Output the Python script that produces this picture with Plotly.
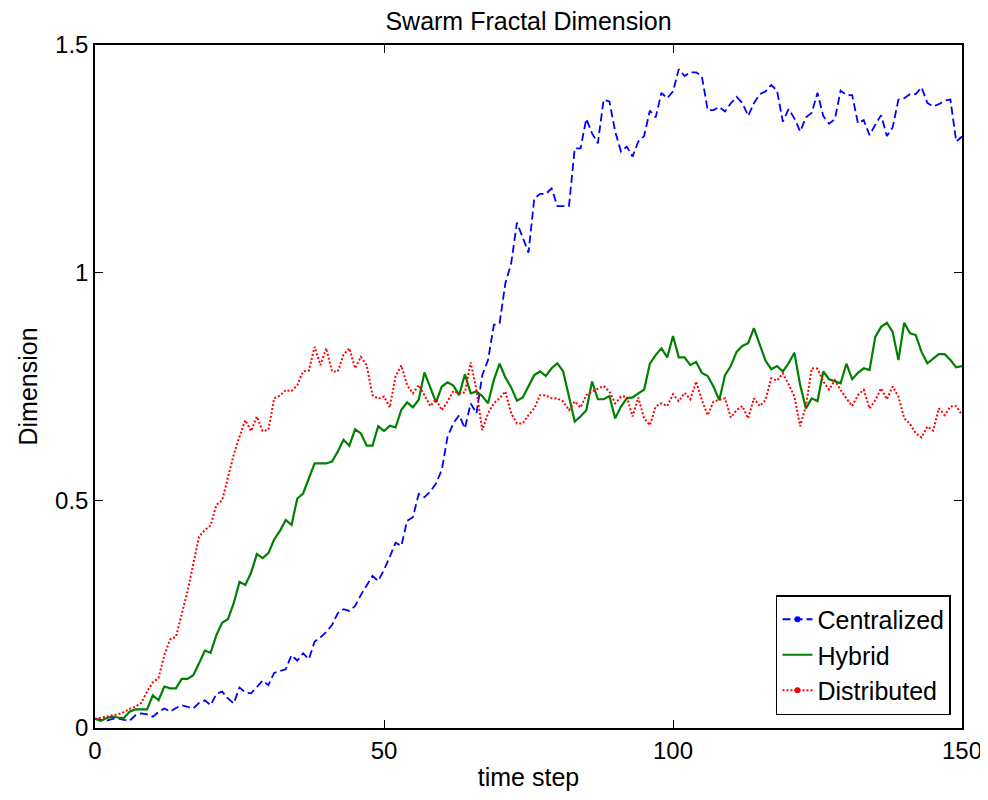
import plotly.graph_objects as go

time_steps = list(range(0, 151))

centralized = [
    0.020, 0.018, 0.016, 0.020, 0.021, 0.018, 0.016, 0.028, 0.032, 0.030,
    0.025, 0.035, 0.043, 0.036, 0.044, 0.050, 0.046, 0.043, 0.055, 0.061,
    0.050, 0.075, 0.080, 0.065, 0.054, 0.089, 0.078, 0.076, 0.090, 0.104,
    0.094, 0.121, 0.125, 0.129, 0.160, 0.148, 0.164, 0.151, 0.190, 0.199,
    0.211, 0.226, 0.252, 0.261, 0.257, 0.268, 0.292, 0.312, 0.334, 0.323,
    0.347, 0.376, 0.407, 0.400, 0.455, 0.463, 0.514, 0.507, 0.519, 0.537,
    0.567, 0.640, 0.669, 0.687, 0.658, 0.713, 0.691, 0.775, 0.808, 0.885,
    0.889, 0.977, 1.020, 1.110, 1.077, 1.044, 1.163, 1.173, 1.173, 1.185,
    1.146, 1.146, 1.146, 1.273, 1.273, 1.338, 1.306, 1.284, 1.380, 1.376,
    1.310, 1.266, 1.277, 1.255, 1.288, 1.300, 1.356, 1.341, 1.395, 1.383,
    1.398, 1.447, 1.432, 1.440, 1.440, 1.431, 1.357, 1.357, 1.364, 1.354,
    1.372, 1.386, 1.373, 1.344, 1.372, 1.392, 1.398, 1.412, 1.400, 1.332,
    1.359, 1.339, 1.310, 1.341, 1.351, 1.395, 1.344, 1.327, 1.337, 1.400,
    1.390, 1.390, 1.328, 1.335, 1.302, 1.325, 1.346, 1.300, 1.319, 1.380,
    1.383, 1.392, 1.392, 1.407, 1.373, 1.365, 1.370, 1.378, 1.380, 1.288,
    1.299,
]

hybrid = [
    0.020, 0.016, 0.022, 0.025, 0.023, 0.022, 0.036, 0.041, 0.041, 0.041,
    0.072, 0.061, 0.091, 0.087, 0.087, 0.108, 0.108, 0.116, 0.142, 0.170,
    0.165, 0.204, 0.231, 0.239, 0.274, 0.321, 0.314, 0.341, 0.382, 0.373,
    0.384, 0.414, 0.433, 0.457, 0.446, 0.504, 0.515, 0.548, 0.581, 0.581,
    0.581, 0.585, 0.607, 0.633, 0.620, 0.656, 0.647, 0.620, 0.620, 0.663,
    0.652, 0.664, 0.660, 0.699, 0.715, 0.704, 0.721, 0.781, 0.746, 0.715,
    0.750, 0.759, 0.752, 0.731, 0.777, 0.735, 0.739, 0.729, 0.713, 0.764,
    0.800, 0.770, 0.748, 0.719, 0.726, 0.751, 0.775, 0.783, 0.773, 0.790,
    0.801, 0.783, 0.730, 0.673, 0.684, 0.698, 0.761, 0.722, 0.722, 0.729,
    0.680, 0.706, 0.724, 0.726, 0.735, 0.743, 0.800, 0.819, 0.834, 0.814,
    0.861, 0.814, 0.814, 0.797, 0.804, 0.780, 0.773, 0.750, 0.720, 0.775,
    0.795, 0.826, 0.839, 0.845, 0.878, 0.841, 0.807, 0.788, 0.795, 0.783,
    0.801, 0.824, 0.753, 0.702, 0.724, 0.718, 0.783, 0.766, 0.761, 0.757,
    0.800, 0.766, 0.780, 0.790, 0.786, 0.859, 0.881, 0.890, 0.870, 0.808,
    0.890, 0.867, 0.863, 0.826, 0.801, 0.812, 0.821, 0.821, 0.808, 0.792,
    0.795,
]

distributed = [
    0.020, 0.022, 0.025, 0.028, 0.030, 0.035, 0.042, 0.047, 0.055, 0.080,
    0.100, 0.110, 0.160, 0.195, 0.200, 0.250, 0.300, 0.360, 0.420, 0.435,
    0.445, 0.490, 0.500, 0.550, 0.600, 0.640, 0.676, 0.652, 0.684, 0.652,
    0.655, 0.724, 0.730, 0.742, 0.740, 0.753, 0.783, 0.785, 0.837, 0.797,
    0.834, 0.783, 0.783, 0.820, 0.834, 0.790, 0.815, 0.797, 0.731, 0.723,
    0.728, 0.704, 0.772, 0.796, 0.753, 0.735, 0.753, 0.731, 0.707, 0.722,
    0.698, 0.717, 0.740, 0.735, 0.737, 0.803, 0.742, 0.654, 0.691, 0.713,
    0.724, 0.739, 0.691, 0.669, 0.669, 0.687, 0.702, 0.731, 0.731, 0.724,
    0.724, 0.717, 0.698, 0.717, 0.704, 0.731, 0.739, 0.745, 0.751, 0.739,
    0.713, 0.728, 0.728, 0.684, 0.726, 0.680, 0.665, 0.706, 0.713, 0.707,
    0.733, 0.718, 0.736, 0.722, 0.761, 0.720, 0.687, 0.717, 0.720, 0.724,
    0.682, 0.698, 0.707, 0.680, 0.724, 0.707, 0.720, 0.768, 0.763, 0.779,
    0.755, 0.728, 0.663, 0.707, 0.790, 0.789, 0.761, 0.743, 0.764, 0.742,
    0.724, 0.707, 0.731, 0.743, 0.702, 0.720, 0.746, 0.722, 0.750, 0.728,
    0.680, 0.668, 0.647, 0.638, 0.662, 0.653, 0.702, 0.687, 0.706, 0.707,
    0.687,
]

series_names = ["Centralized", "Hybrid", "Distributed"]
x_ticks = [0, 50, 100, 150]
x_tick_labels = ["0", "50", "100", "150"]
y_ticks = [0, 0.5, 1, 1.5]
y_tick_labels = ["0", "0.5", "1", "1.5"]

FONT = "Liberation Sans, Arial, Helvetica, sans-serif"

styles = [
    dict(color="#0000FF", dash="8px,4px", width=1.8, legend_marker=True),
    dict(color="#008000", dash="solid", width=2.2, legend_marker=False),
    dict(color="#FF0000", dash="2px,2px", width=2.0, legend_marker=True),
]

fig = go.Figure()
for name, ys, st in zip(series_names, [centralized, hybrid, distributed], styles):
    fig.add_trace(go.Scatter(
        x=time_steps, y=ys, mode="lines", name=name, legendgroup=name,
        showlegend=False,
        line=dict(color=st["color"], dash=st["dash"], width=st["width"]),
    ))
for name, st in zip(series_names, styles):
    fig.add_trace(go.Scatter(
        x=[None], y=[None], name=name, legendgroup=name,
        mode="lines+markers" if st["legend_marker"] else "lines",
        line=dict(color=st["color"], dash=st["dash"], width=st["width"]),
        marker=dict(color=st["color"], size=6),
        showlegend=True,
    ))

axis_common = dict(
    showline=True, linecolor="black", linewidth=1.5, mirror="ticks",
    ticks="inside", ticklen=8, tickwidth=1.2, tickcolor="black",
    showgrid=False, zeroline=False, automargin=False,
    tickfont=dict(family=FONT, size=24, color="black"),
)

W, H = 980, 792
ML, MT = 87, 37
MR = W - ML - 867
MB = H - MT - 683

fig.update_layout(
    width=W, height=H,
    paper_bgcolor="white", plot_bgcolor="white",
    margin=dict(l=ML, r=MR, t=MT, b=MB),
    title=dict(text="Swarm Fractal Dimension", x=(ML + 867 / 2) / W, xanchor="center",
               y=1 - 13 / H, yanchor="middle",
               font=dict(family=FONT, size=25, color="black")),
    xaxis=dict(range=[0, 150], tickvals=x_ticks, ticktext=x_tick_labels,
               title=dict(text="time step", font=dict(family=FONT, size=25, color="black"),
                          standoff=6),
               **axis_common),
    yaxis=dict(range=[0, 1.5], tickvals=y_ticks, ticktext=y_tick_labels,
               title=dict(text="Dimension", font=dict(family=FONT, size=25, color="black"),
                          standoff=10),
               **axis_common),
    legend=dict(x=0.9873, y=0.019, xanchor="right", yanchor="bottom",
                bgcolor="white", bordercolor="black", borderwidth=1.5,
                font=dict(family=FONT, size=25, color="black"),
                itemwidth=30, tracegroupgap=0),
    showlegend=True,
)

fig.write_html("out.html")
